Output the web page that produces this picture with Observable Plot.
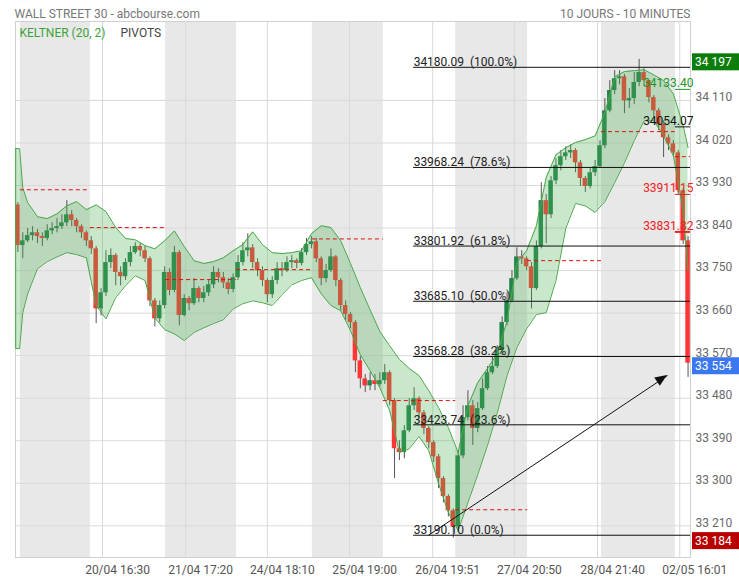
<!DOCTYPE html>
<html><head><meta charset="utf-8">
<script src="https://cdn.jsdelivr.net/npm/d3@7"></script>
<script src="https://cdn.jsdelivr.net/npm/@observablehq/plot@0.6"></script>
<style>body{margin:0;background:#fff;font-family:Roboto,sans-serif;}</style>
</head><body><div id="chart"></div>
<script>
// ---- candles (10-min bars, aggregated), prices
const firstOpen = 33889;
const closes = [33803,33813,33824,33830,33822,33818,33834,33839,33843,33851,
33868,33856,33843,33830,33813,33796,33669,33703,33767,33782,
33746,33737,33767,33788,33801,33792,33775,33686,33648,33676,
33746,33708,33788,33655,33691,33680,33712,33691,33703,33720,
33746,33735,33724,33710,33735,33767,33792,33798,33767,33750,
33729,33699,33729,33754,33750,33767,33771,33765,33788,33805,
33811,33775,33733,33750,33779,33729,33676,33657,33640,33559,
33521,33506,33517,33509,33517,33534,33475,33373,33365,33411,
33464,33479,33449,33416,33386,33356,33310,33272,33242,33208,
33358,33439,33464,33416,33458,33500,33534,33547,33581,33640,
33686,33733,33779,33775,33758,33712,33801,33898,33868,33940,
33972,33991,33999,34004,33978,33945,33928,33957,33970,34014,
34088,34131,34156,34160,34109,34114,34148,34169,34152,34116,
34088,34059,34031,34018,33999,33919,33813,33554];
const highs = [33894,33830,33839,33843,33837,33830,33847,33851,33860,33868,
33898,33877,33860,33847,33834,33822,33801,33712,33792,33796,
33786,33758,33775,33801,33809,33807,33801,33779,33691,33686,
33758,33754,33801,33792,33699,33695,33733,33716,33716,33729,
33758,33754,33746,33733,33743,33782,33809,33828,33805,33775,
33758,33733,33737,33767,33767,33779,33782,33775,33796,33818,
33822,33818,33779,33763,33796,33782,33733,33686,33661,33644,
33568,33530,33534,33530,33534,33551,33538,33479,33390,33422,
33479,33502,33483,33454,33420,33390,33361,33314,33276,33246,
33369,33464,33496,33475,33471,33521,33547,33568,33591,33652,
33703,33750,33798,33792,33779,33767,33813,33936,33911,33949,
33987,34004,34012,34016,34008,33983,33949,33966,33983,34025,
34114,34152,34173,34173,34165,34135,34169,34197,34177,34152,
34120,34093,34067,34037,34025,34004,33923,33822];
const lows = [33788,33775,33809,33813,33807,33801,33813,33826,33830,33837,
33843,33843,33830,33818,33801,33784,33638,33654,33695,33754,
33718,33718,33729,33758,33784,33779,33767,33674,33631,33640,
33669,33697,33703,33633,33652,33665,33676,33682,33682,33695,
33712,33724,33712,33699,33703,33729,33760,33779,33754,33737,
33716,33682,33691,33720,33737,33746,33754,33754,33760,33782,
33796,33767,33718,33724,33746,33716,33665,33644,33627,33534,
33500,33492,33496,33496,33504,33509,33464,33310,33348,33352,
33407,33454,33437,33403,33373,33344,33289,33259,33229,33184,
33196,33352,33432,33380,33407,33454,33496,33530,33543,33570,
33633,33682,33729,33763,33750,33669,33708,33796,33807,33860,
33932,33961,33983,33987,33957,33928,33915,33923,33949,33966,
34008,34084,34122,34143,34082,34093,34101,34139,34139,34105,
34076,34046,33989,34004,33991,33911,33805,33524];

// ---- Keltner (20, 2) band
const bandIdx = [-0.45,0.35,1,2,4,6,8,10,12,14,16,18,20,22,24,26,28,30,32,34,36,38,40,42,44,46,48,50,52,54,56,58,60,62,64,66,68,70,72,74,76,78,80,82,84,86,88,90,92,94,96,98,100,102,104,106,108,110,112,114,116,118,120,122,124,126,128,130,132,134,136,137];
const bandUpper = [34008,34008,33925,33894,33864,33860,33870,33887,33896,33879,33889,33875,33841,33818,33815,33803,33796,33813,33834,33801,
33771,33765,33769,33777,33792,33805,33832,33805,33788,33786,33788,33792,33828,33845,33841,33813,33765,33714,33667,33621,
33591,33562,33543,33528,33496,33460,33418,33365,33464,33513,33543,33574,33644,33767,33792,33845,33947,33995,34010,34021,
34027,34035,34084,34160,34171,34173,34175,34164,34152,34124,34057,34010];
const bandLower = [33585,33585,33661,33701,33754,33769,33779,33788,33784,33777,33676,33648,33693,33718,33739,33729,33650,33625,33616,33602,
33619,33629,33638,33646,33669,33680,33686,33682,33676,33699,33720,33729,33735,33701,33676,33665,33623,33572,33538,33502,
33454,33365,33373,33399,33369,33299,33238,33200,33259,33318,33380,33449,33528,33587,33627,33657,33661,33729,33839,33892,
33887,33873,33896,33936,33978,34025,34067,34067,34035,33993,33877,33750];

// ---- sessions and pivots
const dayEdges = [0.5,14.8,30.2,44.7,60.2,74.7,89.5,104.2,119.3,134.4,137.5];
const pivotValues = [33921,33841,33731,33752,33817,33475,33244,33771,34044,33991];
const pivotLabelValues = [34133.40,34054.07,33911.15,33831.82];
const pivotLabelColors = ["#22962a","#111111","#ee2222","#ee2222"];

// ---- Fibonacci retracement
const fibValues = [34180.09,33968.24,33801.92,33685.10,33568.28,33423.74,33190.10];
const fibPcts = ["100.0%","78.6%","61.8%","50.0%","38.2%","23.6%","0.0%"];
const fibStart = 80.9;
const arrowFrom = [83.95, 33190.10];
const arrowTo = [132.8, 33528];

// ---- axes
const yTicks = [33210,33300,33390,33480,33570,33660,33750,33840,33930,34020,34110];
const xTickPos = [17.3,34.3,51.0,67.8,84.8,101.5,118.5,135.3];
const xTickLabels = ["20/04 16:30","21/04 17:20","24/04 18:10","25/04 19:00","26/04 19:51","27/04 20:50","28/04 21:40","02/05 16:01"];
const valueBoxes = [34197, 33554, 33184];
const valueBoxColors = ["#0a7d0a","#3b78f0","#b80000"];

const X0 = -0.49, X1 = 137.5;
const Y0 = 33143, Y1 = 34277;

const sp = v => String(v).replace(/\B(?=(\d{3})+(?!\d))/g, " ");

const candles = closes.map((c, i) => ({i, o: i ? closes[i-1] : firstOpen, c, h: highs[i], l: lows[i]}));
const band = bandIdx.map((i, k) => ({i, up: bandUpper[k], lo: bandLower[k]}));
const days = dayEdges.slice(0, -1).map((a, k) => ({a, b: dayEdges[k+1], k, p: pivotValues[k]}));
const fib = fibValues.map((v, k) => ({v, t: v.toFixed(2) + "\u00a0\u00a0(" + fibPcts[k] + ")"}));
const pivLab = pivotLabelValues.map((v, k) => ({v, color: pivotLabelColors[k], k}));

const GREEN = "#23844c", RED = "#ff3535";
const SVGNS = "http://www.w3.org/2000/svg";

const chart = Plot.plot({
  width: 739, height: 580,
  marginLeft: 15, marginRight: 49, marginTop: 21, marginBottom: 23,
  x: {domain: [X0, X1], axis: null},
  y: {domain: [Y0, Y1], axis: null},
  style: {fontFamily: "Roboto, sans-serif", fontSize: "12px", background: "#fff", overflow: "visible"},
  marks: [
    Plot.rect(days.filter(d => d.k % 2 === 0), {x1: "a", x2: "b", fill: "#e8e8e8"}),
    Plot.gridY(yTicks, {stroke: "#d9d9d9", strokeOpacity: 1}),
    Plot.gridX(xTickPos, {stroke: "#d9d9d9", strokeOpacity: 1}),
    Plot.frame({stroke: "#d0d0d0"}),
    // candles
    Plot.ruleX(candles, {x: "i", y1: "l", y2: "h", stroke: "#555", strokeWidth: 1}),
    Plot.rect(candles, {x1: d => d.i - 0.46, x2: d => d.i + 0.46, y1: "o", y2: "c",
      fill: d => d.c >= d.o ? GREEN : RED}),
    // Keltner band
    Plot.areaY(band, {x: "i", y1: "lo", y2: "up", fill: "#4caf50", fillOpacity: 0.3}),
    Plot.line(band, {x: "i", y: "up", stroke: "#4aa84a", strokeWidth: 1}),
    Plot.line(band, {x: "i", y: "lo", stroke: "#4aa84a", strokeWidth: 1}),
    Plot.ruleX(band.slice(0, 1), {x: "i", y1: "lo", y2: "up", stroke: "#4aa84a"}),
    // pivots
    Plot.ruleY(days, {y: "p", x1: "a", x2: "b", stroke: "#e01010", strokeDasharray: "4,3"}),
    Plot.ruleY(pivLab, {y: "v", x1: () => dayEdges[9], x2: () => X1, stroke: "color", strokeWidth: d => d.k === 3 ? 2 : 1}),
    Plot.text(pivLab, {x: () => X1, y: "v", text: d => d.v.toFixed(2), fill: "color", textAnchor: "end", lineAnchor: "bottom", dx: 3, dy: -2, fontSize: 12}),
    // fibonacci
    Plot.ruleY(fib, {y: "v", x1: () => fibStart, x2: () => X1, stroke: "#111", strokeWidth: 1}),
    Plot.text(fib, {x: () => fibStart, y: "v", text: "t", textAnchor: "start", lineAnchor: "bottom", dy: -1, fill: "#222", fontSize: 12}),
    Plot.link([{a: arrowFrom, b: arrowTo}], {x1: d => d.a[0], y1: d => d.a[1], x2: d => d.b[0], y2: d => d.b[1], stroke: "#111", strokeWidth: 1}),
    (index, scales) => {
      const x1 = scales.x(arrowFrom[0]), y1 = scales.y(arrowFrom[1]);
      const x2 = scales.x(arrowTo[0]), y2 = scales.y(arrowTo[1]);
      const a = Math.atan2(y2 - y1, x2 - x1), L = 12, hw = 5;
      const bx = x2 - L * Math.cos(a), by = y2 - L * Math.sin(a);
      const pts = [[x2, y2], [bx + hw * Math.sin(a), by - hw * Math.cos(a)], [bx - hw * Math.sin(a), by + hw * Math.cos(a)]];
      const p = document.createElementNS(SVGNS, "path");
      p.setAttribute("d", "M" + pts.map(q => q.join(",")).join("L") + "Z");
      p.setAttribute("fill", "#111");
      return p;
    },
    // axes
    Plot.axisY(yTicks, {anchor: "right", tickSize: 0, tickPadding: 5, tickFormat: sp, fontSize: 12, color: "#6a6a6a", dy: -3}),
    Plot.axisX(xTickPos, {anchor: "bottom", tickSize: 0, tickPadding: 8, tickFormat: d => xTickLabels[xTickPos.indexOf(d)], fontSize: 12, color: "#555", dx: 15}),
    // last-value boxes
    (index, scales, values, dims) => {
      const g = document.createElementNS(SVGNS, "g");
      g.setAttribute("text-anchor", "start");
      const left = dims.width - dims.marginRight + 2;
      valueBoxes.forEach((v, k) => {
        const y = scales.y(v);
        const r = document.createElementNS(SVGNS, "rect");
        r.setAttribute("x", left); r.setAttribute("y", y - 5.5); r.setAttribute("width", 48); r.setAttribute("height", 17);
        r.setAttribute("fill", valueBoxColors[k]);
        g.appendChild(r);
        const t = document.createElementNS(SVGNS, "text");
        t.setAttribute("x", left + 3); t.setAttribute("y", y + 3); t.setAttribute("dy", "0.35em");
        t.setAttribute("text-anchor", "start");
        t.setAttribute("fill", "#fff"); t.setAttribute("font-size", "12");
        t.textContent = sp(v);
        g.appendChild(t);
      });
      return g;
    },
    // titles
    Plot.text(["WALL STREET 30 - abcbourse.com"], {frameAnchor: "top-left", textAnchor: "start", dx: -1, dy: -12, fill: "#777", fontSize: 12}),
    Plot.text(["10 JOURS - 10 MINUTES"], {frameAnchor: "top-right", textAnchor: "end", dy: -12, fill: "#777", fontSize: 12}),
    Plot.text(["KELTNER (20, 2)"], {frameAnchor: "top-left", textAnchor: "start", dx: 4, dy: 7, fill: "#3ca33c", fontSize: 12}),
    Plot.text(["PIVOTS"], {frameAnchor: "top-left", textAnchor: "start", dx: 105, dy: 7, fill: "#444", fontSize: 12})
  ]
});
document.getElementById("chart").appendChild(chart);
</script>
</body></html>
